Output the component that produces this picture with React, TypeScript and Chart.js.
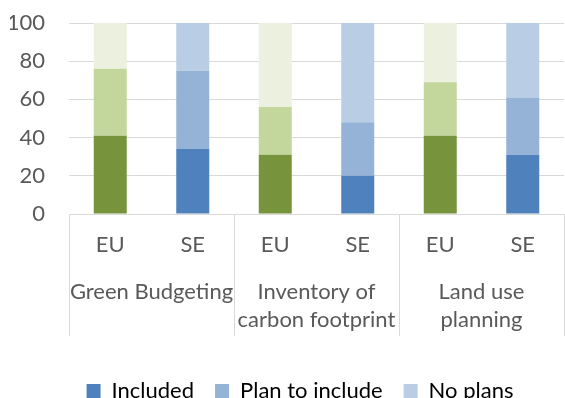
import React, { useEffect, useRef } from "react";
import { Chart, registerables } from "chart.js";

Chart.register(...registerables);

const groups: string[][] = [["Green Budgeting"], ["Inventory of", "carbon footprint"], ["Land use", "planning"]];
const regions = ["EU", "SE"];
const seriesNames = ["Included", "Plan to include", "No plans"];

const includedEU = [41, 31, 41];
const includedSE = [34, 20, 31];
const planEU = [35, 25, 28];
const planSE = [41, 28, 30];
const noPlansEU = [24, 44, 31];
const noPlansSE = [25, 52, 39];

const yTicks = [0, 20, 40, 60, 80, 100];

const greenColors = ["#77933C", "#C3D69B", "#EBF1DE"];
const blueColors = ["#4F81BD", "#95B3D7", "#B9CDE5"];

const FONT = 22;
const GROUP_LINE = 28;
const GROUP_PAD = 20;

const interleave = (eu: number[], se: number[]) => eu.flatMap((v, i) => [v, se[i]]);
const xLabels = groups.flatMap(() => regions);

const separatorPlugin = {
  id: "separators",
  afterLayout(chart: any) {
    if (chart.legend) {
      chart.legend.left += 13;
      chart.legend.right += 13;
    }
  },
  afterDraw(chart: any) {
    const x = chart.scales.x;
    const x2 = chart.scales.x2;
    const ctx = chart.ctx;
    ctx.save();
    ctx.strokeStyle = "#D9D9D9";
    ctx.lineWidth = 1;
    const top = x.top;
    const bottom = x2.top + GROUP_PAD + 2 * GROUP_LINE + 2;
    for (let g = 0; g <= groups.length; g++) {
      let px = x.getPixelForValue(g * 2 - 0.5);
      px = Math.round(px) + 0.5;
      ctx.beginPath();
      ctx.moveTo(px, top);
      ctx.lineTo(px, bottom);
      ctx.stroke();
    }
    ctx.restore();
  },
};

const noSidePad = (axis: any) => {
  axis.paddingLeft = 0;
  axis.paddingRight = 0;
};

export default function App() {
  const ref = useRef<HTMLCanvasElement | null>(null);
  useEffect(() => {
    if (!ref.current) return;
    Chart.defaults.font.family = "Lato";
    Chart.defaults.font.size = FONT;
    Chart.defaults.color = "#595959";
    const barColors = (k: number) => xLabels.map((_, i) => (i % 2 === 0 ? greenColors[k] : blueColors[k]));
    const seriesData = [
      interleave(includedEU, includedSE),
      interleave(planEU, planSE),
      interleave(noPlansEU, noPlansSE),
    ];
    const chart = new Chart(ref.current, {
      type: "bar",
      data: {
        labels: xLabels,
        datasets: seriesNames.map((name, k) => ({
          label: name,
          data: seriesData[k],
          backgroundColor: barColors(k),
          borderWidth: 0,
          barPercentage: 0.4,
          categoryPercentage: 1,
        })),
      },
      options: {
        animation: false,
        responsive: false,
        layout: { padding: { top: 23, left: 10, right: 1, bottom: -14 } },
        plugins: {
          tooltip: { enabled: false },
          legend: {
            position: "bottom",
            labels: {
              boxWidth: 14,
              boxHeight: 14,
              padding: 21,
              color: "#595959",
              font: { size: FONT, family: "Lato" },
              generateLabels: () =>
                seriesNames.map((name, k) => ({
                  text: name,
                  fillStyle: blueColors[k],
                  strokeStyle: blueColors[k],
                  lineWidth: 0,
                  hidden: false,
                  datasetIndex: k,
                })),
            },
          },
        },
        scales: {
          x: {
            stacked: true,
            grid: { display: false, drawTicks: false },
            border: { display: true, color: "#D9D9D9" },
            ticks: { padding: 18, autoSkip: false, maxRotation: 0, color: "#595959" },
            afterFit: (axis: any) => {
              noSidePad(axis);
              axis.height = 44;
            },
          },
          x2: {
            type: "category",
            labels: groups as any,
            position: "bottom",
            offset: true,
            grid: { display: false, drawTicks: false },
            border: { display: false },
            ticks: {
              padding: GROUP_PAD,
              autoSkip: false,
              maxRotation: 0,
              color: "#595959",
              font: { size: FONT, lineHeight: GROUP_LINE / FONT },
            },
            afterFit: (axis: any) => {
              noSidePad(axis);
              axis.height = 101;
            },
          },
          y: {
            stacked: true,
            min: 0,
            max: 100,
            afterBuildTicks: (axis: any) => {
              axis.ticks = yTicks.map((v) => ({ value: v }));
            },
            afterFit: (axis: any) => {
              axis.paddingTop = 0;
              axis.paddingBottom = 0;
              axis.width = 59;
            },
            grid: { color: "#D9D9D9", drawTicks: false, lineWidth: 1 },
            border: { display: false },
            ticks: { padding: 24, color: "#595959" },
          },
        },
      },
      plugins: [separatorPlugin],
    });
    return () => chart.destroy();
  }, []);
  return (
    <div style={{ position: "absolute", left: 0, top: 0, width: 565, height: 398 }}>
      <canvas ref={ref} width={565} height={398} />
    </div>
  );
}
